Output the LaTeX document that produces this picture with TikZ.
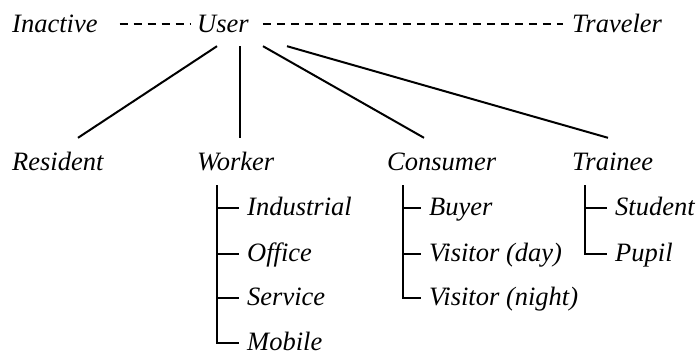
\documentclass[tikz,border=0pt]{standalone}
\usepackage{fontspec}
\setmainfont{Liberation Serif}
\newfontfamily\rolefont{Liberation Serif Italic}
\begin{document}
\begin{tikzpicture}[x=1pt,y=-1pt,
		role/.style={font=\rolefont\fontsize{26.5}{30}\selectfont, inner sep=0pt, anchor=base west, text height=20pt, text depth=4pt},
		leaf/.style={role, inner xsep=8pt, text height=18pt},
		link/.style={line width=2pt},
		alias/.style={line width=2pt, dash pattern=on 8pt off 6pt}]

		\useasboundingbox (0,0) rectangle (696,356);

		% Nodes
		\node[role] (inactive) at (12,32) {Inactive};
		\node[role] (user) at (197,32) {User};
		\node[role] (traveler) at (572,32) {Traveler};

		\node[role] (resident) at (12,170) {Resident};
		\node[role] (worker) at (197,170) {Worker};
		\node[role] (consumer) at (387,170) {Consumer};
		\node[role] (trainee) at (572,170) {Trainee};

		\node[leaf] (industrial) at (239,215) {Industrial};
		\node[leaf] (office) at (239,261) {Office};
		\node[leaf] (service) at (239,305) {Service};
		\node[leaf] (mobile) at (239,350) {Mobile};

		\node[leaf] (buyer) at (421,215) {Buyer};
		\node[leaf] (dayvisitor) at (421,261) {Visitor (day)};
		\node[leaf] (nightvisitor) at (421,305) {Visitor (night)};

		\node[leaf] (student) at (607,215) {Student};
		\node[leaf] (pupil) at (607,261) {Pupil};

		% Edges
		\draw[alias, shorten <=22pt, shorten >=7pt] (inactive.east) -- (user.west);
		\draw[alias, shorten <=14pt, shorten >=9pt] (user.east) -- (traveler.west);

		\draw[link] ([xshift=20pt,yshift=-10pt]user.south west) -- ([xshift=66pt,yshift=12pt]resident.north west);
		\draw[link] ([xshift=43pt,yshift=-10pt]user.south west) -- ([xshift=43pt,yshift=12pt]worker.north west);
		\draw[link] ([xshift=66pt,yshift=-10pt]user.south west) -- ([xshift=37pt,yshift=12pt]consumer.north west);
		\draw[link] ([xshift=90pt,yshift=-10pt]user.south west) -- ([xshift=36pt,yshift=12pt]trainee.north west);

		% Subtrees
		\coordinate (wk) at ([xshift=20pt,yshift=-11pt]worker.south west);
		\coordinate (cs) at ([xshift=16pt,yshift=-11pt]consumer.south west);
		\coordinate (tr) at ([xshift=13pt,yshift=-11pt]trainee.south west);

		\draw[link] (wk) |- (mobile.west);
		\foreach \n in {industrial,office,service}
			\draw[link] (wk |- \n.west) -- (\n.west);

		\draw[link] (cs) |- (nightvisitor.west);
		\foreach \n in {buyer,dayvisitor}
			\draw[link] (cs |- \n.west) -- (\n.west);

		\draw[link] (tr) |- (pupil.west);
		\draw[link] (tr |- student.west) -- (student.west);

	\end{tikzpicture}
\end{document}
